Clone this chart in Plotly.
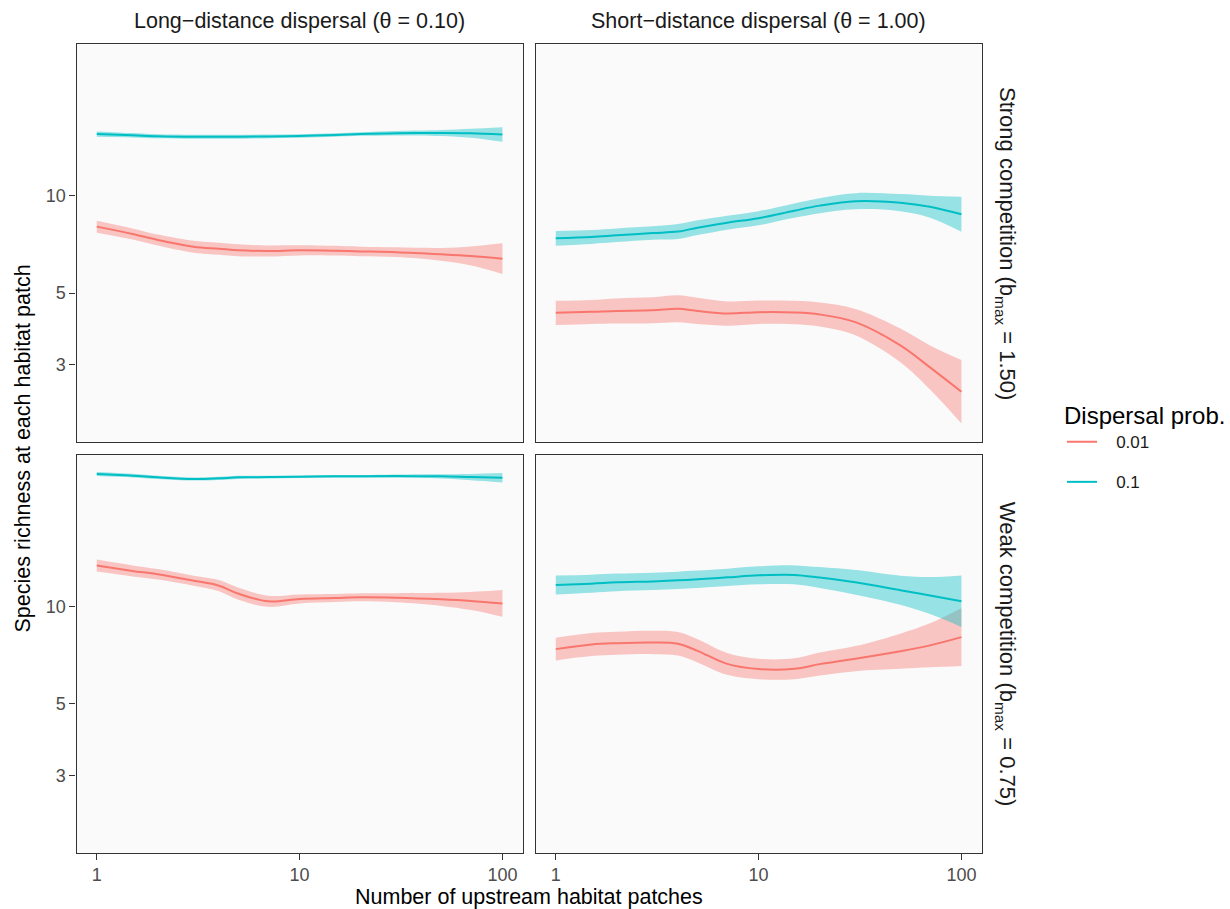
import plotly.graph_objects as go

# Number of upstream habitat patches (x positions of the smoothed fits)
N_UPSTREAM = [1, 1.5, 2, 3, 4, 5, 7, 10, 15, 20, 30, 50, 70, 100]

# Smoothed species richness with confidence band (fit, lower, upper)
# Long-distance dispersal, strong competition
long_strong_p001_fit = [8.03, 7.62, 7.30, 6.96, 6.86, 6.78, 6.75, 6.78, 6.76, 6.73, 6.69, 6.59, 6.51, 6.39]
long_strong_p001_lo = [7.69, 7.33, 7.02, 6.67, 6.57, 6.50, 6.49, 6.54, 6.53, 6.50, 6.46, 6.29, 6.08, 5.73]
long_strong_p001_hi = [8.38, 7.93, 7.59, 7.26, 7.16, 7.08, 7.02, 7.03, 7.00, 6.96, 6.93, 6.90, 6.97, 7.13]
long_strong_p01_fit = [15.55, 15.42, 15.31, 15.25, 15.25, 15.25, 15.29, 15.34, 15.45, 15.55, 15.64, 15.66, 15.63, 15.50]
long_strong_p01_lo = [15.25, 15.18, 15.09, 15.03, 15.03, 15.03, 15.09, 15.15, 15.26, 15.35, 15.40, 15.33, 15.14, 14.71]
long_strong_p01_hi = [15.85, 15.66, 15.53, 15.47, 15.47, 15.47, 15.49, 15.53, 15.64, 15.75, 15.89, 16.00, 16.14, 16.33]

# Short-distance dispersal, strong competition
short_strong_p001_fit = [4.34, 4.37, 4.40, 4.42, 4.47, 4.40, 4.32, 4.36, 4.35, 4.29, 4.06, 3.44, 2.94, 2.47]
short_strong_p001_lo = [3.98, 4.01, 4.02, 4.03, 4.06, 4.01, 3.96, 4.01, 4.00, 3.94, 3.70, 3.05, 2.51, 1.97]
short_strong_p001_hi = [4.73, 4.76, 4.81, 4.85, 4.92, 4.83, 4.71, 4.74, 4.73, 4.67, 4.46, 3.88, 3.44, 3.10]
short_strong_p01_fit = [7.39, 7.46, 7.55, 7.67, 7.75, 7.97, 8.26, 8.53, 9.00, 9.33, 9.63, 9.53, 9.26, 8.77]
short_strong_p01_lo = [7.01, 7.10, 7.19, 7.31, 7.35, 7.56, 7.86, 8.11, 8.55, 8.84, 9.09, 8.97, 8.56, 7.74]
short_strong_p01_hi = [7.79, 7.84, 7.93, 8.05, 8.18, 8.40, 8.68, 8.97, 9.48, 9.84, 10.20, 10.13, 10.02, 9.94]

# Long-distance dispersal, weak competition
long_weak_p001_fit = [13.41, 12.91, 12.60, 12.04, 11.62, 10.97, 10.39, 10.57, 10.64, 10.69, 10.66, 10.54, 10.42, 10.24]
long_weak_p001_lo = [12.85, 12.41, 12.14, 11.62, 11.17, 10.51, 9.99, 10.24, 10.34, 10.39, 10.32, 10.06, 9.77, 9.31]
long_weak_p001_hi = [14.00, 13.43, 13.08, 12.48, 12.09, 11.45, 10.81, 10.92, 10.95, 11.00, 11.01, 11.04, 11.11, 11.26]
long_weak_p01_fit = [25.76, 25.47, 25.16, 24.86, 24.98, 25.16, 25.21, 25.28, 25.34, 25.34, 25.39, 25.34, 25.21, 25.10]
long_weak_p01_lo = [25.39, 25.14, 24.87, 24.59, 24.71, 24.89, 24.96, 25.05, 25.11, 25.09, 25.09, 24.95, 24.64, 24.27]
long_weak_p01_hi = [26.13, 25.80, 25.45, 25.13, 25.25, 25.43, 25.46, 25.52, 25.58, 25.60, 25.70, 25.74, 25.79, 25.96]

# Short-distance dispersal, weak competition
short_weak_p001_fit = [7.39, 7.64, 7.71, 7.75, 7.68, 7.30, 6.65, 6.41, 6.42, 6.64, 6.90, 7.28, 7.59, 8.05]
short_weak_p001_lo = [6.82, 7.04, 7.10, 7.13, 7.06, 6.72, 6.15, 5.96, 5.96, 6.12, 6.31, 6.42, 6.49, 6.55]
short_weak_p001_hi = [8.01, 8.29, 8.37, 8.43, 8.35, 7.93, 7.19, 6.90, 6.92, 7.21, 7.55, 8.25, 8.88, 9.89]
short_weak_p01_fit = [11.68, 11.79, 11.90, 11.98, 12.07, 12.16, 12.33, 12.51, 12.55, 12.31, 11.90, 11.25, 10.83, 10.40]
short_weak_p01_lo = [10.91, 11.05, 11.17, 11.26, 11.34, 11.43, 11.59, 11.73, 11.73, 11.42, 10.90, 10.14, 9.49, 8.66]
short_weak_p01_hi = [12.50, 12.57, 12.67, 12.75, 12.84, 12.94, 13.12, 13.34, 13.43, 13.27, 12.99, 12.48, 12.36, 12.50]

DISPERSAL_PROBS = ["0.01", "0.1"]
COLORS = {"0.01": "#F8766D", "0.1": "#00BFC4"}
FILLS = {"0.01": "rgba(248,118,109,0.4)", "0.1": "rgba(0,191,196,0.4)"}

COL_STRIPS = ["Long−distance dispersal (θ = 0.10)", "Short−distance dispersal (θ = 1.00)"]
ROW_STRIPS = ["Strong competition (b<sub>max</sub> = 1.50)", "Weak competition (b<sub>max</sub> = 0.75)"]
X_TICKS = [1, 10, 100]
Y_TICKS = [3, 5, 10]

W, H = 1230, 909
FONT = "Liberation Sans, Arial, sans-serif"
NBSP = "\u00a0"


def fx(p):
    return p / W


def fy(p):
    return 1 - p / H


COL_DOM = [[fx(76.5), fx(522.7)], [fx(535.5), fx(981.7)]]
ROW_DOM = [[fy(441.7), fy(44.3)], [fy(852.7), fy(455.0)]]

# (axis suffix, row, col, {prob: (fit, lo, hi)})
panels = [
    ("", 0, 0, {"0.01": (long_strong_p001_fit, long_strong_p001_lo, long_strong_p001_hi),
                "0.1": (long_strong_p01_fit, long_strong_p01_lo, long_strong_p01_hi)}),
    ("2", 0, 1, {"0.01": (short_strong_p001_fit, short_strong_p001_lo, short_strong_p001_hi),
                 "0.1": (short_strong_p01_fit, short_strong_p01_lo, short_strong_p01_hi)}),
    ("3", 1, 0, {"0.01": (long_weak_p001_fit, long_weak_p001_lo, long_weak_p001_hi),
                 "0.1": (long_weak_p01_fit, long_weak_p01_lo, long_weak_p01_hi)}),
    ("4", 1, 1, {"0.01": (short_weak_p001_fit, short_weak_p001_lo, short_weak_p001_hi),
                 "0.1": (short_weak_p01_fit, short_weak_p01_lo, short_weak_p01_hi)}),
]

fig = go.Figure()
layout_axes = {}
for suffix, row, col, series in panels:
    xa, ya = "x" + suffix, "y" + suffix
    for prob in DISPERSAL_PROBS:
        fit, lo, hi = series[prob]
        fig.add_trace(go.Scatter(x=N_UPSTREAM, y=lo, mode="lines", xaxis=xa, yaxis=ya,
                                 line=dict(width=0, shape="spline"), showlegend=False,
                                 hoverinfo="skip"))
        fig.add_trace(go.Scatter(x=N_UPSTREAM, y=hi, mode="lines", xaxis=xa, yaxis=ya,
                                 line=dict(width=0, shape="spline"), fill="tonexty",
                                 fillcolor=FILLS[prob], showlegend=False, hoverinfo="skip"))
        fig.add_trace(go.Scatter(x=N_UPSTREAM, y=fit, mode="lines", xaxis=xa, yaxis=ya,
                                 line=dict(color=COLORS[prob], width=2, shape="spline"),
                                 name=NBSP * 3 + prob, legendgroup=prob,
                                 showlegend=(suffix == "")))
    bottom = row == 1
    left = col == 0
    layout_axes["xaxis" + suffix] = dict(
        domain=COL_DOM[col], anchor=ya, type="log", range=[-0.1, 2.1],
        showgrid=False, zeroline=False, showline=True, mirror=True,
        linecolor="#333333", linewidth=1.3,
        ticks="outside" if bottom else "", ticklen=6, tickwidth=1.2, tickcolor="#333333",
        tickvals=X_TICKS, ticktext=[str(v) for v in X_TICKS], showticklabels=bottom,
        tickfont=dict(size=18, color="#4D4D4D", family=FONT),
    )
    layout_axes["yaxis" + suffix] = dict(
        domain=ROW_DOM[row], anchor=xa, type="log", range=[0.238, 1.470],
        showgrid=False, zeroline=False, showline=True, mirror=True,
        linecolor="#333333", linewidth=1.3,
        ticks="outside" if left else "", ticklen=6, tickwidth=1.2, tickcolor="#333333",
        tickvals=Y_TICKS, ticktext=[str(v) for v in Y_TICKS], showticklabels=left,
        tickfont=dict(size=18, color="#4D4D4D", family=FONT),
    )

# Panel backgrounds
shapes = []
for suffix, row, col, _ in panels:
    shapes.append(dict(type="rect", xref="paper", yref="paper", layer="below",
                       x0=COL_DOM[col][0], x1=COL_DOM[col][1],
                       y0=ROW_DOM[row][0], y1=ROW_DOM[row][1],
                       fillcolor="#FAFAFA", line=dict(width=0)))

annotations = []
for col, label in enumerate(COL_STRIPS):
    annotations.append(dict(text=label, xref="paper", yref="paper",
                            x=sum(COL_DOM[col]) / 2, y=fy(21), xanchor="center", yanchor="middle",
                            showarrow=False, font=dict(size=21.5, color="#1A1A1A", family=FONT)))
for row, label in enumerate(ROW_STRIPS):
    annotations.append(dict(text=label, xref="paper", yref="paper", textangle=90,
                            x=fx(1006), y=sum(ROW_DOM[row]) / 2, xanchor="center", yanchor="middle",
                            showarrow=False, font=dict(size=22, color="#1A1A1A", family=FONT)))
annotations.append(dict(text="Number of upstream habitat patches", xref="paper", yref="paper",
                        x=(COL_DOM[0][0] + COL_DOM[1][1]) / 2, y=fy(897), xanchor="center",
                        yanchor="middle", showarrow=False,
                        font=dict(size=21.5, color="#000000", family=FONT)))
annotations.append(dict(text="Species richness at each habitat patch", xref="paper", yref="paper",
                        x=fx(22), y=(ROW_DOM[0][1] + ROW_DOM[1][0]) / 2, xanchor="center",
                        yanchor="middle", textangle=-90, showarrow=False,
                        font=dict(size=21.5, color="#000000", family=FONT)))

fig.update_layout(
    width=W, height=H,
    margin=dict(l=0, r=0, t=0, b=0),
    paper_bgcolor="white", plot_bgcolor="rgba(0,0,0,0)",
    font=dict(family=FONT),
    shapes=shapes, annotations=annotations,
    legend=dict(x=fx(1062), xanchor="left", y=fy(393), yanchor="top",
                title=dict(text="Dispersal prob.", font=dict(size=24, color="#000000", family=FONT)),
                font=dict(size=17, color="#1A1A1A", family=FONT),
                itemwidth=30, tracegroupgap=15, bgcolor="rgba(0,0,0,0)"),
    **layout_axes,
)

fig.write_html("out.html")
